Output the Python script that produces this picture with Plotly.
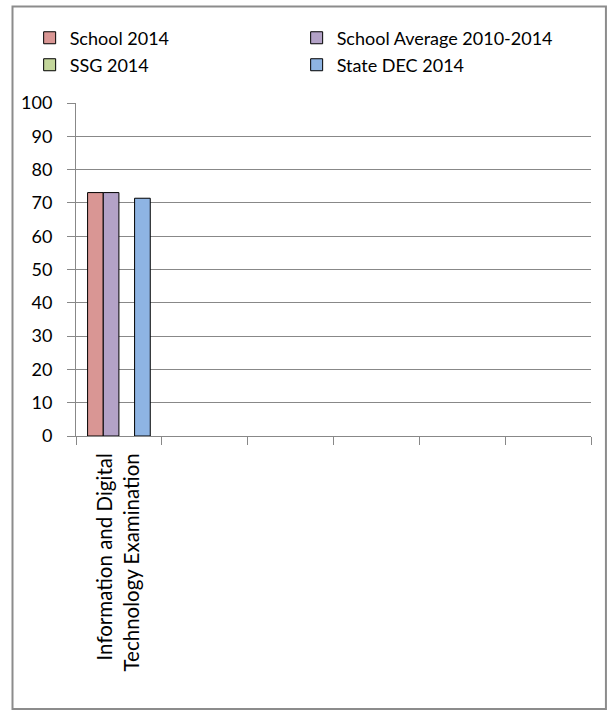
import plotly.graph_objects as go

# Exam categories (only the first has results)
categories = [
    "Information and Digital Technology Examination",
    "cat2", "cat3", "cat4", "cat5", "cat6",
]
tick_labels = [
    "Information and Digital<br>Technology Examination",
    "", "", "", "", "",
]

series_names = ["School 2014", "School Average 2010-2014", "SSG 2014", "State DEC 2014"]
school_2014 = [73.1, None, None, None, None, None]
school_avg = [73.1, None, None, None, None, None]
ssg_2014 = [None, None, None, None, None, None]
state_dec = [71.4, None, None, None, None, None]

colors = ["#D99694", "#B3A2C7", "#C3D69B", "#8EB4E3"]
# two legend rows, two entries per row
legend_rows = ["legend", "legend", "legend2", "legend2"]
FONT = "Lato"
GRID = "#888888"

fig = go.Figure()
for name, vals, col, lg in zip(series_names, [school_2014, school_avg, ssg_2014, state_dec],
                               colors, legend_rows):
    fig.add_trace(go.Bar(
        x=categories, y=vals, name=name, legend=lg,
        marker=dict(color=col, line=dict(color="#000000", width=1)),
    ))

legend_common = dict(
    orientation="h", x=-0.09, xanchor="left", yanchor="middle",
    entrywidth=222, entrywidthmode="pixels",
    font=dict(family=FONT, size=18), traceorder="normal",
    itemclick=False, itemdoubleclick=False, bgcolor="rgba(0,0,0,0)",
)

fig.update_layout(
    width=609, height=711,
    margin=dict(l=76, r=18, t=103, b=275, autoexpand=False),
    paper_bgcolor="white", plot_bgcolor="white",
    barmode="group", bargap=0.27, bargroupgap=0,
    font=dict(family=FONT, size=18, color="#000000"),
    showlegend=True,
    legend=dict(legend_common, y=1.195),
    legend2=dict(legend_common, y=1.114),
    xaxis=dict(
        type="category", categoryorder="array", categoryarray=categories,
        tickmode="array", tickvals=categories, ticktext=tick_labels,
        tickson="boundaries", ticks="outside", ticklen=8, tickcolor=GRID,
        tickangle=-90, showline=True, linecolor=GRID, linewidth=1,
        showgrid=False, tickfont=dict(family=FONT, size=20.5),
        ticklabelstandoff=8, automargin=False,
    ),
    yaxis=dict(
        range=[0, 100], dtick=10, tick0=0,
        ticks="outside", ticklen=8, tickcolor=GRID,
        showline=True, linecolor=GRID, linewidth=1,
        showgrid=True, gridcolor=GRID, gridwidth=1,
        zeroline=False, tickfont=dict(family=FONT, size=18),
        ticklabelstandoff=11, automargin=False,
    ),
    shapes=[dict(
        type="rect", xref="paper", yref="paper",
        x0=-0.1233, x1=1.029, y0=-0.8198, y1=1.2898,
        line=dict(color="#8C8C8C", width=2), fillcolor="rgba(0,0,0,0)",
        layer="below",
    )],
)

fig.write_html("out.html")
